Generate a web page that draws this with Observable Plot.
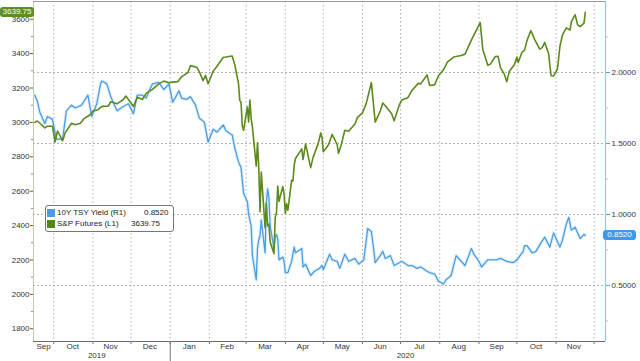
<!DOCTYPE html>
<html><head><meta charset="utf-8">
<script src="https://cdn.jsdelivr.net/npm/d3@7"></script>
<script src="https://cdn.jsdelivr.net/npm/@observablehq/plot@0.6"></script>
<style>
body{margin:0;background:#fff;}
#wrap{position:relative;width:640px;height:361px;font-family:"Liberation Sans",Arial,sans-serif;background:#fff;overflow:hidden;}
.badge{position:absolute;color:#fff;font-size:8px;line-height:10px;height:10px;text-align:center;border-radius:3px;font-family:"Liberation Sans",Arial,sans-serif;}
#legend{position:absolute;left:45px;top:205px;width:127px;height:25px;border:1px solid #777;border-radius:3px;background:#fff;font-size:8px;color:#222;}
#legend .sw{position:absolute;left:1px;width:8px;height:8px;}
#legend .t{position:absolute;line-height:10px;white-space:nowrap;}
</style></head>
<body><div id="wrap"></div>
<script>
// ---- data ----
const spxDates = ["2019-09-16","2019-09-18","2019-09-20","2019-09-24","2019-09-26","2019-09-30","2019-10-02","2019-10-04","2019-10-08","2019-10-10","2019-10-15","2019-10-18","2019-10-22","2019-10-25","2019-10-30","2019-11-01","2019-11-05","2019-11-08","2019-11-13","2019-11-15","2019-11-20","2019-11-25","2019-11-27","2019-12-03","2019-12-06","2019-12-10","2019-12-13","2019-12-18","2019-12-23","2019-12-27","2019-12-31","2020-01-03","2020-01-07","2020-01-10","2020-01-15","2020-01-17","2020-01-22","2020-01-24","2020-01-27","2020-01-29","2020-01-31","2020-02-04","2020-02-07","2020-02-12","2020-02-14","2020-02-19","2020-02-21","2020-02-24","2020-02-25","2020-02-26","2020-02-27","2020-02-28","2020-03-02","2020-03-03","2020-03-04","2020-03-05","2020-03-06","2020-03-09","2020-03-10","2020-03-11","2020-03-12","2020-03-13","2020-03-16","2020-03-17","2020-03-18","2020-03-19","2020-03-20","2020-03-23","2020-03-24","2020-03-25","2020-03-26","2020-03-27","2020-03-30","2020-03-31","2020-04-01","2020-04-02","2020-04-03","2020-04-06","2020-04-07","2020-04-08","2020-04-09","2020-04-14","2020-04-15","2020-04-17","2020-04-21","2020-04-23","2020-04-27","2020-04-29","2020-04-30","2020-05-01","2020-05-05","2020-05-08","2020-05-12","2020-05-13","2020-05-15","2020-05-18","2020-05-21","2020-05-26","2020-05-28","2020-06-01","2020-06-04","2020-06-08","2020-06-11","2020-06-15","2020-06-17","2020-06-19","2020-06-24","2020-06-26","2020-06-30","2020-07-02","2020-07-07","2020-07-10","2020-07-15","2020-07-17","2020-07-22","2020-07-24","2020-07-28","2020-07-31","2020-08-04","2020-08-07","2020-08-12","2020-08-18","2020-08-21","2020-08-26","2020-08-28","2020-09-02","2020-09-04","2020-09-08","2020-09-10","2020-09-14","2020-09-16","2020-09-18","2020-09-21","2020-09-23","2020-09-25","2020-09-29","2020-10-01","2020-10-02","2020-10-05","2020-10-07","2020-10-09","2020-10-12","2020-10-15","2020-10-19","2020-10-21","2020-10-23","2020-10-26","2020-10-28","2020-10-30","2020-11-02","2020-11-04","2020-11-06","2020-11-09","2020-11-10","2020-11-12","2020-11-13","2020-11-16","2020-11-18","2020-11-20","2020-11-23","2020-11-24"];
const spxValues = [3000,3008,2995,2968,2978,2978,2886,2950,2893,2939,2995,2986,2995,3022,3046,3066,3074,3093,3094,3120,3108,3133,3153,3093,3146,3133,3169,3192,3224,3240,3231,3234,3237,3265,3289,3330,3321,3295,3243,3273,3225,3298,3327,3379,3380,3386,3337,3225,3128,3116,2978,2954,3090,3003,3130,3023,2972,2746,2882,2741,2480,2711,2386,2529,2398,2409,2305,2237,2447,2475,2630,2541,2627,2585,2471,2527,2489,2664,2659,2750,2790,2846,2784,2875,2737,2798,2878,2939,2912,2830,2868,2930,2870,2820,2864,2954,2948,2991,3029,3055,3112,3232,3002,3066,3113,3097,3050,3009,3100,3130,3145,3185,3227,3224,3276,3215,3218,3271,3306,3351,3380,3389,3397,3478,3508,3580,3426,3332,3339,3383,3385,3319,3281,3236,3298,3335,3380,3348,3408,3419,3477,3534,3483,3426,3435,3465,3401,3271,3270,3310,3443,3509,3550,3545,3537,3585,3626,3567,3557,3577,3639.75];

const tsyDates = ["2019-09-16","2019-09-18","2019-09-20","2019-09-24","2019-09-26","2019-09-30","2019-10-03","2019-10-08","2019-10-11","2019-10-15","2019-10-18","2019-10-23","2019-10-28","2019-10-31","2019-11-04","2019-11-07","2019-11-08","2019-11-12","2019-11-15","2019-11-20","2019-11-25","2019-11-29","2019-12-03","2019-12-06","2019-12-10","2019-12-13","2019-12-18","2019-12-23","2019-12-27","2019-12-31","2020-01-03","2020-01-08","2020-01-10","2020-01-14","2020-01-17","2020-01-21","2020-01-24","2020-01-28","2020-01-31","2020-02-04","2020-02-07","2020-02-12","2020-02-14","2020-02-19","2020-02-21","2020-02-24","2020-02-26","2020-02-28","2020-03-02","2020-03-03","2020-03-05","2020-03-06","2020-03-09","2020-03-10","2020-03-11","2020-03-12","2020-03-13","2020-03-16","2020-03-17","2020-03-18","2020-03-19","2020-03-20","2020-03-23","2020-03-24","2020-03-25","2020-03-26","2020-03-27","2020-03-30","2020-03-31","2020-04-01","2020-04-03","2020-04-06","2020-04-08","2020-04-09","2020-04-14","2020-04-15","2020-04-17","2020-04-21","2020-04-24","2020-04-28","2020-04-30","2020-05-01","2020-05-06","2020-05-08","2020-05-12","2020-05-14","2020-05-18","2020-05-21","2020-05-26","2020-05-29","2020-06-02","2020-06-04","2020-06-05","2020-06-08","2020-06-10","2020-06-11","2020-06-15","2020-06-17","2020-06-19","2020-06-23","2020-06-26","2020-06-30","2020-07-02","2020-07-07","2020-07-10","2020-07-14","2020-07-17","2020-07-22","2020-07-24","2020-07-28","2020-07-31","2020-08-04","2020-08-06","2020-08-10","2020-08-14","2020-08-18","2020-08-21","2020-08-26","2020-08-28","2020-09-01","2020-09-03","2020-09-08","2020-09-10","2020-09-15","2020-09-18","2020-09-23","2020-09-28","2020-10-01","2020-10-06","2020-10-07","2020-10-09","2020-10-13","2020-10-16","2020-10-20","2020-10-23","2020-10-27","2020-10-30","2020-11-04","2020-11-06","2020-11-09","2020-11-11","2020-11-13","2020-11-16","2020-11-18","2020-11-20","2020-11-23","2020-11-24"];
const tsyValues = [1.84,1.80,1.72,1.64,1.69,1.67,1.53,1.53,1.73,1.77,1.75,1.77,1.84,1.69,1.78,1.92,1.94,1.92,1.83,1.73,1.76,1.78,1.71,1.84,1.84,1.82,1.92,1.93,1.88,1.92,1.79,1.87,1.82,1.81,1.83,1.77,1.68,1.65,1.51,1.60,1.58,1.63,1.59,1.56,1.47,1.37,1.33,1.15,1.09,1.00,0.92,0.71,0.54,0.76,0.82,0.85,0.96,0.73,1.08,1.18,1.12,0.92,0.76,0.84,0.86,0.83,0.68,0.70,0.67,0.59,0.59,0.67,0.77,0.73,0.76,0.63,0.65,0.57,0.60,0.62,0.64,0.61,0.72,0.68,0.67,0.62,0.72,0.67,0.69,0.65,0.68,0.82,0.90,0.88,0.74,0.66,0.71,0.74,0.69,0.71,0.64,0.66,0.67,0.64,0.64,0.62,0.63,0.60,0.59,0.58,0.53,0.51,0.54,0.57,0.71,0.67,0.64,0.76,0.72,0.67,0.63,0.68,0.68,0.68,0.69,0.67,0.66,0.68,0.74,0.78,0.78,0.73,0.74,0.80,0.84,0.77,0.87,0.77,0.82,0.93,0.98,0.89,0.91,0.87,0.83,0.86,0.852];

const leftTicks = [1800,2000,2200,2400,2600,2800,3000,3200,3400,3600];
const leftMinor = [1900,2100,2300,2500,2700,2900,3100,3300,3500];
const rightTicks = [0.5,1.0,1.5,2.0];
const rightMinor = [0.25,0.75,1.25,1.75,2.25];
const monthTicks = ["2019-10-01","2019-11-01","2019-12-01","2020-01-01","2020-02-01","2020-03-01","2020-04-01","2020-05-01","2020-06-01","2020-07-01","2020-08-01","2020-09-01","2020-10-01","2020-11-01","2020-12-01"];
const monthLabelDates = ["2019-09-23","2019-10-16","2019-11-15","2019-12-16","2020-01-16","2020-02-15","2020-03-16","2020-04-15","2020-05-16","2020-06-15","2020-07-16","2020-08-16","2020-09-15","2020-10-16","2020-11-15"];
const monthLabels = ["Sep","Oct","Nov","Dec","Jan","Feb","Mar","Apr","May","Jun","Jul","Aug","Sep","Oct","Nov"];
const yearLabelDates = ["2019-11-04","2020-07-05"];
const yearLabels = ["2019","2020"];
const yearDivider = "2020-01-01";
const seriesNames = ["10Y TSY Yield (R1)","S&P Futures (L1)"];

// ---- scales ----
const parse = d3.utcParse("%Y-%m-%d");
const L = [1726, 3703];      // left axis (S&P) domain
const R = [0.105, 2.5];      // right axis (yield) domain
const r2l = r => L[0] + (r - R[0]) * (L[1] - L[0]) / (R[1] - R[0]);
const l2r = v => R[0] + (v - L[0]) * (R[1] - R[0]) / (L[1] - L[0]);
const xDomain = [parse("2019-09-15"), parse("2020-12-10")];

const spx = spxDates.map((d, i) => ({date: parse(d), value: spxValues[i]}));
const tsy = tsyDates.map((d, i) => ({date: parse(d), value: r2l(tsyValues[i])}));
const monthLab = monthLabelDates.map((d, i) => ({date: parse(d), label: monthLabels[i]}));
const yearLab = yearLabelDates.map((d, i) => ({date: parse(d), label: yearLabels[i]}));

const blue = "#4a9de2", green = "#5b8a1d";
const pxPerUnit = 340 / (L[1] - L[0]);

const chart = Plot.plot({
  width: 640, height: 361,
  marginLeft: 33, marginRight: 35, marginTop: 1, marginBottom: 20,
  style: {fontFamily: "Liberation Sans, Arial, sans-serif", fontSize: "8px", color: "#333", background: "#fff", overflow: "visible"},
  x: {type: "utc", domain: xDomain},
  y: {domain: L},
  marks: [
    Plot.ruleX(monthTicks, {x: d => parse(d), stroke: "#b0b0b0", strokeDasharray: "1.5,2.5"}),
    Plot.ruleY(rightTicks, {y: r2l, stroke: "#b0b0b0", strokeDasharray: "2,2"}),
    Plot.ruleX([xDomain[0]], {stroke: "#c3c9ad"}),
    Plot.ruleX([xDomain[1]], {stroke: "#8fcbe8", strokeWidth: 1.2}),
    Plot.ruleY([L[0]], {stroke: "#6a6a6a"}),
    Plot.ruleY([L[1]], {stroke: "#9a9a9a"}),
    Plot.ruleX([parse(yearDivider)], {y1: L[0], y2: L[0] - 20 / pxPerUnit, stroke: "#777"}),
    Plot.lineY(tsy, {x: "date", y: "value", stroke: "#cfe6f8", strokeWidth: 3.5, strokeOpacity: 0.6}),
    Plot.lineY(tsy, {x: "date", y: "value", stroke: blue, strokeWidth: 1.3}),
    Plot.lineY(spx, {x: "date", y: "value", stroke: green, strokeWidth: 1.6}),
    Plot.axisY(leftTicks, {anchor: "left", tickSize: 3, tickPadding: 1, label: null, stroke: "#556b2f", fill: "#333", tickFormat: d => String(d)}),
    Plot.axisY(leftMinor, {anchor: "left", tickSize: 2, tickFormat: () => "", label: null, stroke: "#888"}),
    Plot.axisY(rightTicks.map(r2l), {anchor: "right", tickSize: 4, tickPadding: 2, label: null, stroke: "#4a9de2", fill: "#333", tickFormat: v => l2r(v).toFixed(4)}),
    Plot.axisY(rightMinor.map(r2l), {anchor: "right", tickSize: 2, tickFormat: () => "", label: null, stroke: "#9cc"}),
    Plot.axisX(monthTicks.map(parse), {anchor: "bottom", tickSize: 3, tickFormat: () => "", label: null, stroke: "#777"}),
    Plot.text(monthLab, {x: "date", text: "label", frameAnchor: "bottom", dy: 7, fill: "#333", fontSize: 8}),
    Plot.text(yearLab, {x: "date", text: "label", frameAnchor: "bottom", dy: 16, fill: "#333", fontSize: 8})
  ]
});

const wrap = document.getElementById("wrap");
wrap.appendChild(chart);
const ys = chart.scale("y");

// value badges
const lastSpx = spxValues[spxValues.length - 1];
const lastTsy = tsyValues[tsyValues.length - 1];
const b1 = document.createElement("div");
b1.className = "badge";
b1.textContent = lastSpx.toFixed(2);
Object.assign(b1.style, {left: "0px", width: "34px", top: (ys.apply(lastSpx) - 5) + "px", background: "#5c8e22"});
wrap.appendChild(b1);
const b2 = document.createElement("div");
b2.className = "badge";
b2.textContent = lastTsy.toFixed(4);
Object.assign(b2.style, {left: "603px", width: "33px", top: (ys.apply(r2l(lastTsy)) - 5) + "px", background: "#3d9ae8"});
wrap.appendChild(b2);

// legend
const lg = document.createElement("div");
lg.id = "legend";
lg.innerHTML =
  `<span class="sw" style="top:3px;background:${blue}"></span>` +
  `<span class="t" style="left:11px;top:2px">${seriesNames[0]}</span>` +
  `<span class="t" style="left:98px;top:2px">${lastTsy.toFixed(4)}</span>` +
  `<span class="sw" style="top:14px;background:#4e8a14"></span>` +
  `<span class="t" style="left:11px;top:13px">${seriesNames[1].replace("&","&amp;")}</span>` +
  `<span class="t" style="left:85px;top:13px">${lastSpx.toFixed(2)}</span>`;
wrap.appendChild(lg);
</script>
</body></html>
